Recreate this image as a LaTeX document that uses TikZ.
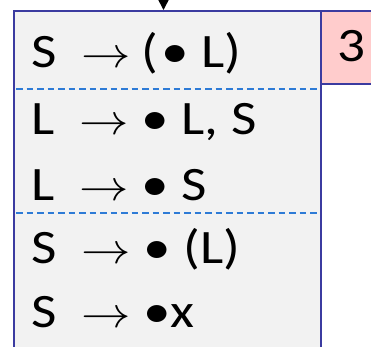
\documentclass[tikz,border=0pt]{standalone}
\usepackage{fontspec}
\setmainfont{Carlito}
\usepackage{tikz}
\usetikzlibrary{arrows.meta,positioning}
\definecolor{BoxLine}{HTML}{3B3BA0}
\definecolor{BoxFill}{HTML}{F2F2F2}
\definecolor{TagFill}{HTML}{FFCCCC}
\definecolor{SplitBlue}{HTML}{2E7BD6}
\newcommand{\wide}[1]{\scalebox{1.15}[1]{#1}}
\newcommand{\goes}{\hspace{0.45em}\scalebox{4.3}{\normalsize$\rightarrow$}}

\begin{document}
\begin{tikzpicture}[>=Latex, x=1pt, y=-1pt]
          \clip (0,0) rectangle (371,346);
          \tikzset{
            item/.style={anchor=base west, inner sep=0pt, font=\fontsize{48}{56}\selectfont},
            split/.style={SplitBlue, line width=1.5pt, dash pattern=on 6.5pt off 4pt}
          }
          % state box and its number tag
          \node[
            draw=BoxLine,
            fill=BoxFill,
            line width=2pt,
            anchor=north west,
            minimum width=307pt,
            minimum height=380pt,
            inner sep=0pt
          ] (state) at (13,10) {};
          \node[
            draw=BoxLine,
            fill=TagFill,
            line width=2pt,
            anchor=north west,
            minimum width=60pt,
            minimum height=73pt,
            inner sep=0pt
          ] (tag) at (320,10) {};
          \node[item, anchor=center] (num) at (351,46.5) {\wide{3}};
          % items
          \node[item] (i1) at (31,67.5) {\wide{S\goes\hspace{0.2em}(\hspace{0.05em}•\ L)}};
          \node[item] (i2) at (31,134) {\wide{L\goes\ • L, S}};
          \node[item] (i3) at (31,200) {\wide{L\goes\ • S}};
          \node[item] (i4) at (31,263) {\wide{S\goes\ • (L)}};
          \node[item] (i5) at (31,327) {\wide{S\goes\ •x}};
          \coordinate (d1a) at (16,89);  \coordinate (d1b) at (317,89);
          \coordinate (d2a) at (16,213); \coordinate (d2b) at (317,213);
          \draw[split] (d1a) -- (d1b);
          \draw[split] (d2a) -- (d2b);
          % incoming edge
          \coordinate (in) at (163.5,-5);
          \draw[line width=1.5pt,-{Triangle[length=10pt,width=10pt]}] (in) -- (state.north -| in);
        \end{tikzpicture}
\end{document}
